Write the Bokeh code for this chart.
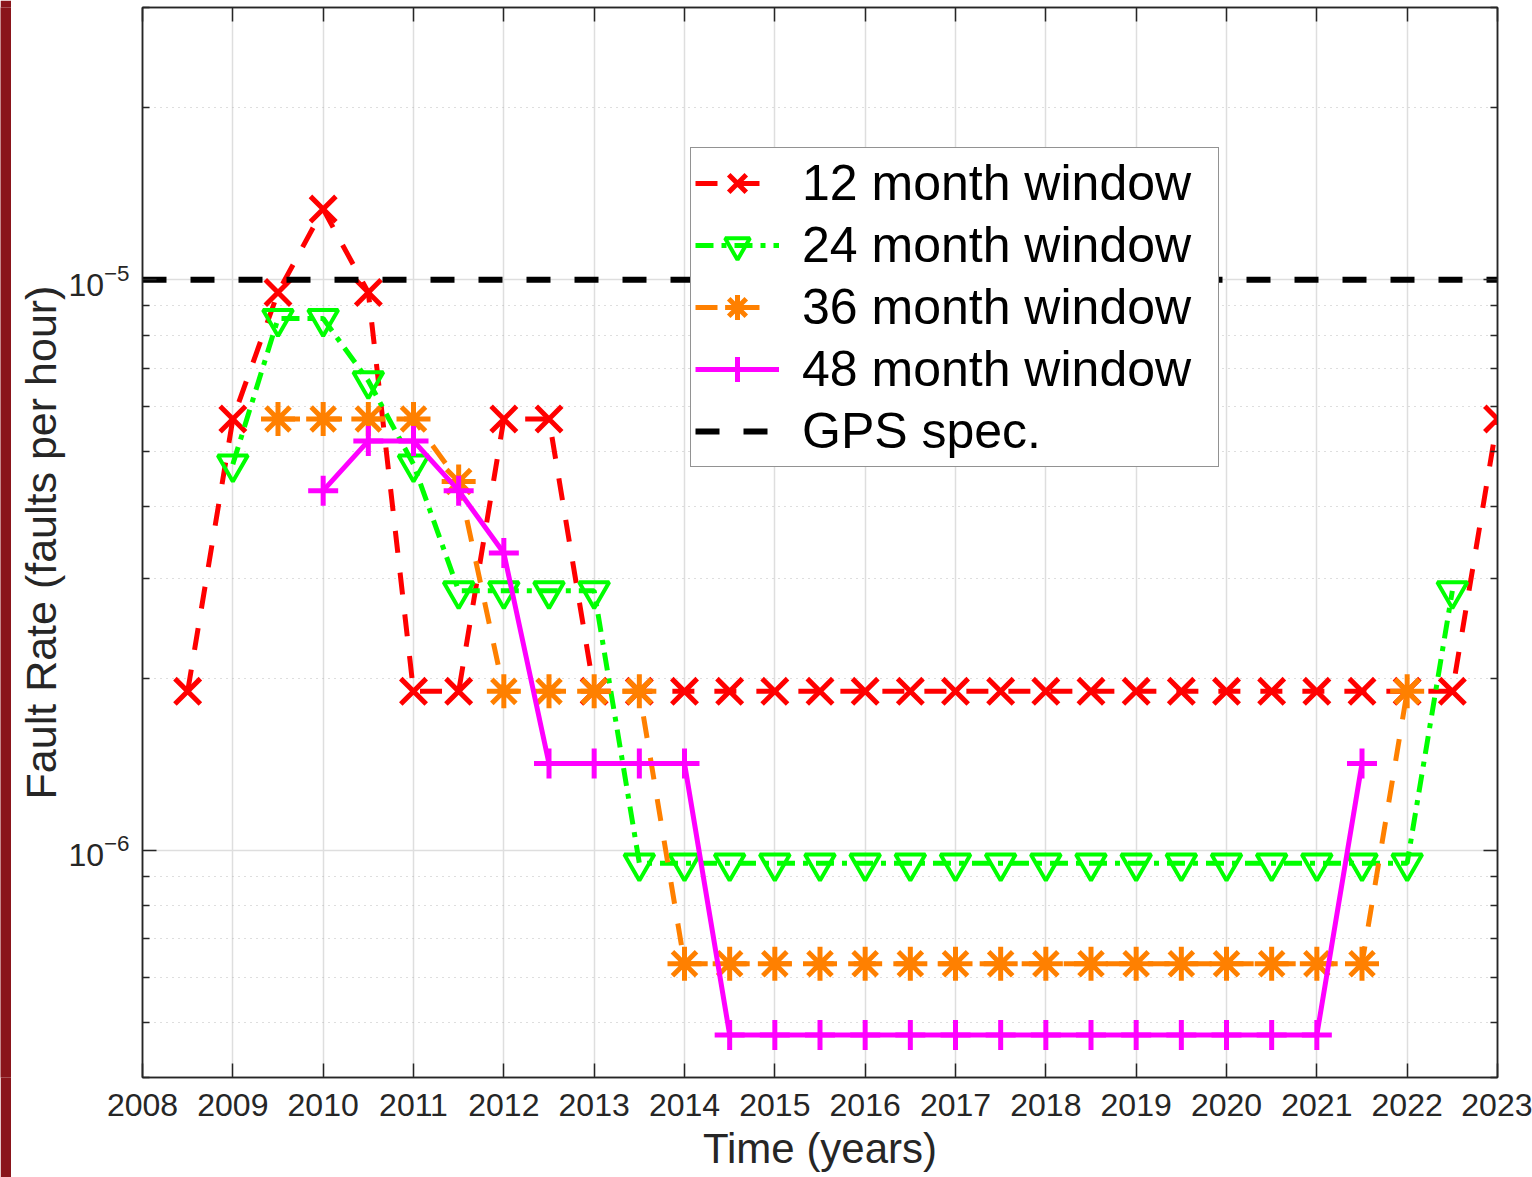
from bokeh.plotting import figure
from bokeh.layouts import row
from bokeh.models import (LinearAxis, LogAxis, FixedTicker, Legend, LegendItem, Range1d)
from bokeh.embed import file_html
from bokeh.resources import INLINE

# ---------------- data ----------------
x12 = [2008.5, 2009.0, 2009.5, 2010.0, 2010.5, 2011.0, 2011.5, 2012.0, 2012.5, 2013.0,
       2013.5, 2014.0, 2014.5, 2015.0, 2015.5, 2016.0, 2016.5, 2017.0, 2017.5, 2018.0,
       2018.5, 2019.0, 2019.5, 2020.0, 2020.5, 2021.0, 2021.5, 2022.0, 2022.5, 2023.0]
y12 = [1.9e-6, 5.7e-6, 9.5e-6, 1.33e-5, 9.5e-6, 1.9e-6, 1.9e-6, 5.7e-6, 5.7e-6, 1.9e-6,
       1.9e-6, 1.9e-6, 1.9e-6, 1.9e-6, 1.9e-6, 1.9e-6, 1.9e-6, 1.9e-6, 1.9e-6, 1.9e-6,
       1.9e-6, 1.9e-6, 1.9e-6, 1.9e-6, 1.9e-6, 1.9e-6, 1.9e-6, 1.9e-6, 1.9e-6, 5.7e-6]

x24 = [2009.0, 2009.5, 2010.0, 2010.5, 2011.0, 2011.5, 2012.0, 2012.5, 2013.0, 2013.5,
       2014.0, 2014.5, 2015.0, 2015.5, 2016.0, 2016.5, 2017.0, 2017.5, 2018.0, 2018.5,
       2019.0, 2019.5, 2020.0, 2020.5, 2021.0, 2021.5, 2022.0, 2022.5]
y24 = [4.75e-6, 8.55e-6, 8.55e-6, 6.65e-6, 4.75e-6, 2.85e-6, 2.85e-6, 2.85e-6, 2.85e-6, 0.95e-6,
       0.95e-6, 0.95e-6, 0.95e-6, 0.95e-6, 0.95e-6, 0.95e-6, 0.95e-6, 0.95e-6, 0.95e-6, 0.95e-6,
       0.95e-6, 0.95e-6, 0.95e-6, 0.95e-6, 0.95e-6, 0.95e-6, 0.95e-6, 2.85e-6]

x36 = [2009.5, 2010.0, 2010.5, 2011.0, 2011.5, 2012.0, 2012.5, 2013.0, 2013.5, 2014.0,
       2014.5, 2015.0, 2015.5, 2016.0, 2016.5, 2017.0, 2017.5, 2018.0, 2018.5, 2019.0,
       2019.5, 2020.0, 2020.5, 2021.0, 2021.5, 2022.0]
y36 = [5.7e-6, 5.7e-6, 5.7e-6, 5.7e-6, 4.43e-6, 1.9e-6, 1.9e-6, 1.9e-6, 1.9e-6, 0.633e-6,
       0.633e-6, 0.633e-6, 0.633e-6, 0.633e-6, 0.633e-6, 0.633e-6, 0.633e-6, 0.633e-6, 0.633e-6, 0.633e-6,
       0.633e-6, 0.633e-6, 0.633e-6, 0.633e-6, 0.633e-6, 1.9e-6]

x48 = [2010.0, 2010.5, 2011.0, 2011.5, 2012.0, 2012.5, 2013.0, 2013.5, 2014.0, 2014.5,
       2015.0, 2015.5, 2016.0, 2016.5, 2017.0, 2017.5, 2018.0, 2018.5, 2019.0, 2019.5,
       2020.0, 2020.5, 2021.0, 2021.5]
y48 = [4.27e-6, 5.22e-6, 5.22e-6, 4.27e-6, 3.32e-6, 1.42e-6, 1.42e-6, 1.42e-6, 1.42e-6, 0.475e-6,
       0.475e-6, 0.475e-6, 0.475e-6, 0.475e-6, 0.475e-6, 0.475e-6, 0.475e-6, 0.475e-6, 0.475e-6, 0.475e-6,
       0.475e-6, 0.475e-6, 0.475e-6, 1.42e-6]

gps_spec = 1e-5
x_limits = [2008, 2023]
y_limits = [4e-7, 3e-5]

year_ticks = [2008, 2009, 2010, 2011, 2012, 2013, 2014, 2015, 2016, 2017, 2018, 2019, 2020,
              2021, 2022, 2023]
y_major_ticks = [1e-6, 1e-5]
y_minor_ticks = [4e-7, 5e-7, 6e-7, 7e-7, 8e-7, 9e-7,
                 2e-6, 3e-6, 4e-6, 5e-6, 6e-6, 7e-6, 8e-6, 9e-6,
                 2e-5, 3e-5]

labels = ["12 month window", "24 month window", "36 month window", "48 month window", "GPS spec."]

# ---------------- figure ----------------
FONT = "Liberation Sans"
AX = "#262626"

fig = figure(width=1521, height=1177, y_axis_type="log",
             x_range=Range1d(x_limits[0], x_limits[1]),
             y_range=Range1d(y_limits[0], y_limits[1]),
             output_backend="svg", toolbar_location=None,
             min_border_left=131, min_border_right=35, min_border_top=7, min_border_bottom=100,
             background_fill_color="white", border_fill_color="white")

fig.outline_line_color = AX
fig.outline_line_width = 1.5

xt = FixedTicker(ticks=year_ticks)
yt = FixedTicker(ticks=y_major_ticks, minor_ticks=y_minor_ticks)

fig.xaxis.ticker = xt
fig.yaxis.ticker = yt
fig.xgrid.ticker = xt
fig.ygrid.ticker = yt


def style_axis(ax):
    ax.axis_line_color = AX
    ax.axis_line_width = 1.5
    ax.major_tick_line_color = AX
    ax.minor_tick_line_color = AX
    ax.major_tick_line_width = 1.5
    ax.minor_tick_line_width = 1.5
    ax.major_tick_in = 14
    ax.major_tick_out = 0
    ax.minor_tick_in = 7
    ax.minor_tick_out = 0


for ax in (fig.xaxis[0], fig.yaxis[0]):
    style_axis(ax)
    ax.major_label_text_font = FONT
    ax.major_label_text_font_size = "32px"
    ax.major_label_text_color = AX
    ax.axis_label_text_font = FONT
    ax.axis_label_text_font_style = "normal"
    ax.axis_label_text_color = AX

fig.xaxis.axis_label = "Time (years)"
fig.xaxis.axis_label_text_font_size = "42px"
fig.xaxis.axis_label_text_line_height = 0.8
fig.xaxis.major_label_standoff = 16
fig.xaxis.axis_label_standoff = 6

fig.yaxis.axis_label = "Fault Rate (faults per hour)"
fig.yaxis.axis_label_text_font_size = "43px"
fig.yaxis.axis_label_text_line_height = 1.0
fig.yaxis.major_label_standoff = 13
fig.yaxis.axis_label_standoff = 0

# box axes (top / right), ticks only, labels invisible
top = LinearAxis(ticker=xt)
right = LogAxis(ticker=yt)
for ax in (top, right):
    style_axis(ax)
    ax.major_label_text_font_size = "1px"
    ax.major_label_text_alpha = 0.0
    ax.major_label_standoff = 0
fig.add_layout(top, "above")
fig.add_layout(right, "right")

# grids
fig.xgrid.grid_line_color = "#DEDEDE"
fig.xgrid.grid_line_width = 1.5
fig.ygrid.grid_line_color = "#DEDEDE"
fig.ygrid.grid_line_width = 1.5
fig.ygrid.minor_grid_line_color = "#BDBDBD"
fig.ygrid.minor_grid_line_dash = "1 5"
fig.ygrid.minor_grid_line_width = 1.2

# ---------------- series ----------------
RED = "#FF0000"
GREEN = "#00FF00"
ORANGE = "#FF8000"
MAGENTA = "#FF00FF"

l12 = fig.line(x12, y12, line_color=RED, line_width=5, line_dash="22 20")
s12 = fig.scatter(x12, y12, marker="x", size=36, line_color=RED, line_width=5)

l24 = fig.line(x24, y24, line_color=GREEN, line_width=5, line_dash="18 8 5 8")
s24 = fig.scatter(x24, y24, marker="inverted_triangle", size=30, line_color=GREEN,
                  fill_color=None, line_width=4)

l36 = fig.line(x36, y36, line_color=ORANGE, line_width=5, line_dash="22 20")
s36 = fig.scatter(x36, y36, marker="asterisk", size=34, line_color=ORANGE, line_width=5)

l48 = fig.line(x48, y48, line_color=MAGENTA, line_width=5)
s48 = fig.scatter(x48, y48, marker="cross", size=30, line_color=MAGENTA, line_width=5)

lgps = fig.line(x_limits, [gps_spec, gps_spec], line_color="black", line_width=6,
                line_dash="24 24")

legend = Legend(items=[
    LegendItem(label=labels[0], renderers=[l12, s12]),
    LegendItem(label=labels[1], renderers=[l24, s24]),
    LegendItem(label=labels[2], renderers=[l36, s36]),
    LegendItem(label=labels[3], renderers=[l48, s48]),
    LegendItem(label=labels[4], renderers=[lgps]),
], location=(548, 610))
legend.label_text_font = FONT
legend.label_text_font_size = "50px"
legend.label_text_color = "black"
legend.border_line_color = AX
legend.border_line_width = 1.5
legend.background_fill_color = "white"
legend.background_fill_alpha = 1.0
legend.padding = 4
legend.spacing = 0
legend.margin = 0
legend.glyph_width = 84
legend.glyph_height = 62
legend.label_height = 62
legend.label_standoff = 23
legend.label_width = 412
fig.add_layout(legend)

# dark slide edge at the far left of the screenshot
edge = figure(width=11, height=1177, output_backend="svg", toolbar_location=None,
              x_axis_location=None, y_axis_location=None, min_border=0,
              background_fill_color="#8A151B", border_fill_color="#8A151B")
edge.outline_line_color = None
edge.xgrid.visible = False
edge.ygrid.visible = False

p = row(edge, fig, spacing=0)

open("out.html", "w").write(file_html(p, INLINE))
